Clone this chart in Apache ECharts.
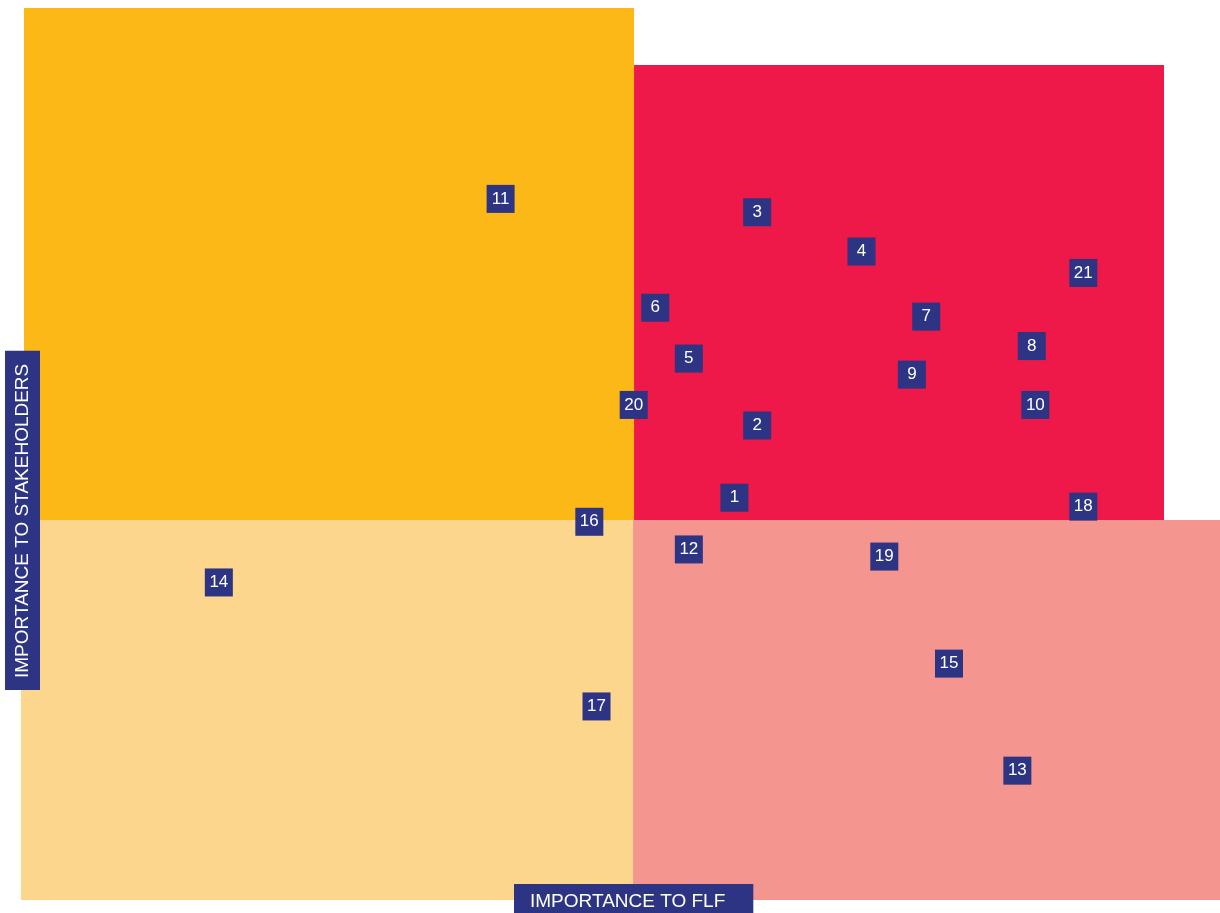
<!DOCTYPE html>
<html>
<head>
<meta charset="utf-8">
<title>Materiality matrix</title>
<script src="https://cdn.jsdelivr.net/npm/echarts@6/dist/echarts.min.js"></script>
<style>
  html, body { margin: 0; padding: 0; background: #ffffff; }
  #chart { width: 1220px; height: 913px; }
</style>
</head>
<body>
<div id="chart"></div>
<script>
// issue numbers and their position (importance to FLF, importance to stakeholders)
const issueIds = ['11', '3', '4', '21', '6', '7', '8', '5', '9', '20', '10', '2', '1', '18', '16', '12', '19', '14', '15', '17', '13'];
const flfScores = [40.0, 61.4, 70.1, 88.6, 52.9, 75.5, 84.3, 55.7, 74.3, 51.1, 84.6, 61.4, 59.5, 88.6, 47.4, 55.7, 72.0, 16.5, 77.4, 48.0, 83.1];
const stakeholderScores = [78.6, 77.1, 72.7, 70.3, 66.4, 65.4, 62.1, 60.7, 58.9, 55.5, 55.5, 53.2, 45.1, 44.1, 42.4, 39.3, 38.5, 35.6, 26.5, 21.7, 14.5];

// quadrant extents: [xFrom, xTo, yFrom, yTo]
const quadrantBounds = [
  [0.25, 51.13, 42.6, 100],
  [51.13, 95.33, 42.6, 93.6],
  [0, 51.13, 0, 42.6],
  [51.05, 100, 0, 42.6]
];
const quadrantColors = ['#fcb816', '#ee1849', '#fdd68e', '#f49590'];

const chart = echarts.init(document.getElementById('chart'));

const points = issueIds.map(function (id, i) {
  return { name: id, value: [flfScores[i], stakeholderScores[i]] };
});

const option = {
  backgroundColor: '#ffffff',
  animation: false,
  grid: { left: 21, right: 0, top: 8, bottom: 13 },
  xAxis: { type: 'value', min: 0, max: 100, show: false },
  yAxis: { type: 'value', min: 0, max: 100, show: false },
  series: [
    {
      type: 'custom',
      z: 1,
      silent: true,
      data: quadrantBounds.map(function (b, i) { return b.concat([i]); }),
      renderItem: function (params, api) {
        const p0 = api.coord([api.value(0), api.value(3)]);
        const p1 = api.coord([api.value(1), api.value(2)]);
        return {
          type: 'rect',
          shape: { x: p0[0], y: p0[1], width: p1[0] - p0[0], height: p1[1] - p0[1] },
          style: { fill: quadrantColors[api.value(4)] }
        };
      }
    },
    {
      type: 'scatter',
      z: 3,
      symbol: 'rect',
      symbolSize: 28,
      itemStyle: { color: '#2d3483', opacity: 1 },
      label: {
        show: true,
        position: 'inside',
        formatter: '{b}',
        color: '#ffffff',
        fontSize: 17,
        fontFamily: 'Liberation Sans, Arial, sans-serif'
      },
      data: points
    }
  ],
  graphic: [
    {
      type: 'text',
      x: 5,
      y: 690,
      rotation: Math.PI / 2,
      z: 10,
      style: {
        text: 'IMPORTANCE TO STAKEHOLDERS',
        fill: '#ffffff',
        font: '19px Liberation Sans, Arial, sans-serif',
        backgroundColor: '#2d3483',
        padding: [8, 13, 8, 12],
        verticalAlign: 'top'
      }
    },
    {
      type: 'text',
      x: 514,
      y: 884,
      z: 10,
      style: {
        text: 'IMPORTANCE TO FLF',
        fill: '#ffffff',
        font: '19px Liberation Sans, Arial, sans-serif',
        backgroundColor: '#2d3483',
        padding: [8, 28, 8, 16],
        verticalAlign: 'top'
      }
    }
  ]
};

chart.setOption(option);
</script>
</body>
</html>
